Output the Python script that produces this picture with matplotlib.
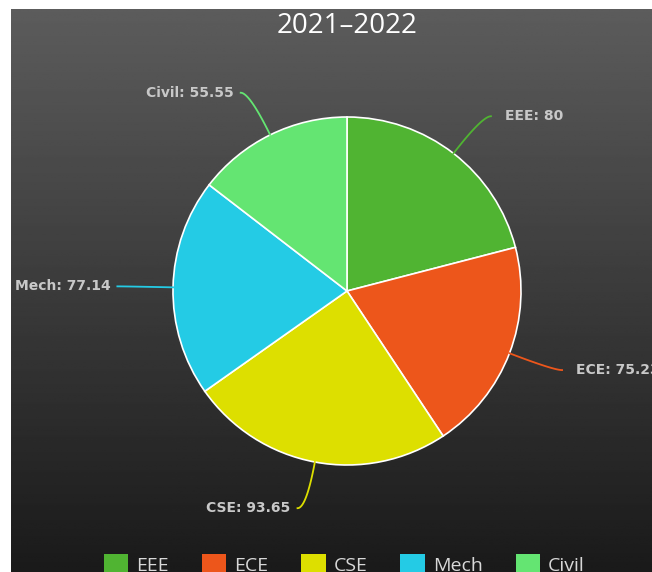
import numpy as np
import matplotlib.pyplot as plt

# data
depts = ['EEE', 'ECE', 'CSE', 'Mech', 'Civil']
scores = [80, 75.23, 93.65, 77.14, 55.55]
colors = ['#50b432', '#ed561b', '#dddf00', '#24cbe5', '#64e572']
title = '2021\u20132022'

W, H = 652, 572
fig = plt.figure(figsize=(W / 100, H / 100), dpi=100)
fig.patch.set_facecolor('white')

# dark gradient background (chart area starts a little in from the left/top)
bg = fig.add_axes([11 / W, 0, 1 - 11 / W, 1 - 9 / H])
grad = np.linspace(92, 26, 256)[:, None] / 255.0
bg.imshow(np.repeat(grad, 2, axis=1), cmap='gray', vmin=0, vmax=1,
          aspect='auto', extent=[0, 1, 0, 1])
bg.set_axis_off()

# pie axes
cx, cy, r = 347, 291, 174
ax = fig.add_axes([(cx - r) / W, (H - cy - r) / H, 2 * r / W, 2 * r / H])
ax.set_facecolor('none')
wedges, _ = ax.pie(scores, colors=colors, startangle=90, counterclock=False,
                   radius=1, wedgeprops=dict(edgecolor='white', linewidth=1.2))
ax.set_xlim(-1, 1)
ax.set_ylim(-1, 1)
ax.set_aspect('equal')
ax.set_axis_off()

# data labels with curved connectors
for w, name, val, col in zip(wedges, depts, scores, colors):
    mid = np.deg2rad((w.theta1 + w.theta2) / 2)
    c, s = np.cos(mid), np.sin(mid)
    x0, y0 = c, s
    ye = 1.27 * s
    xc = 1.27 * c
    side = 1 if c >= 0 else -1
    xe = xc + side * 0.05
    t = np.linspace(0, 1, 40)
    bx = (1 - t) ** 2 * x0 + 2 * (1 - t) * t * xc + t ** 2 * xe
    by = (1 - t) ** 2 * y0 + 2 * (1 - t) * t * ye + t ** 2 * ye
    ax.plot(bx, by, color=col, lw=1.3, clip_on=False)
    pad = 0.08 if side > 0 else 0.04
    ax.text(xe + side * pad, ye, f'{name}: {val:g}', color='#c8c8c8',
            fontsize=10, fontweight='bold', family='DejaVu Sans',
            ha='left' if side > 0 else 'right', va='center', clip_on=False)

fig.text(347 / W, 1 - 26 / H, title, color='white', fontsize=20,
         family='Open Sans', ha='center', va='center')

leg = fig.legend(wedges, depts, loc='center', bbox_to_anchor=(0.528, 0.013),
                 ncol=5, frameon=False, prop={'family': 'Open Sans', 'size': 14},
                 handlelength=1.26, handleheight=1.26, handletextpad=0.4,
                 columnspacing=1.7, borderaxespad=0)
for h in leg.legend_handles:
    h.set_edgecolor('none')
for txt in leg.get_texts():
    txt.set_color('#d8d8d8')

fig.savefig('out.png', dpi=100)
